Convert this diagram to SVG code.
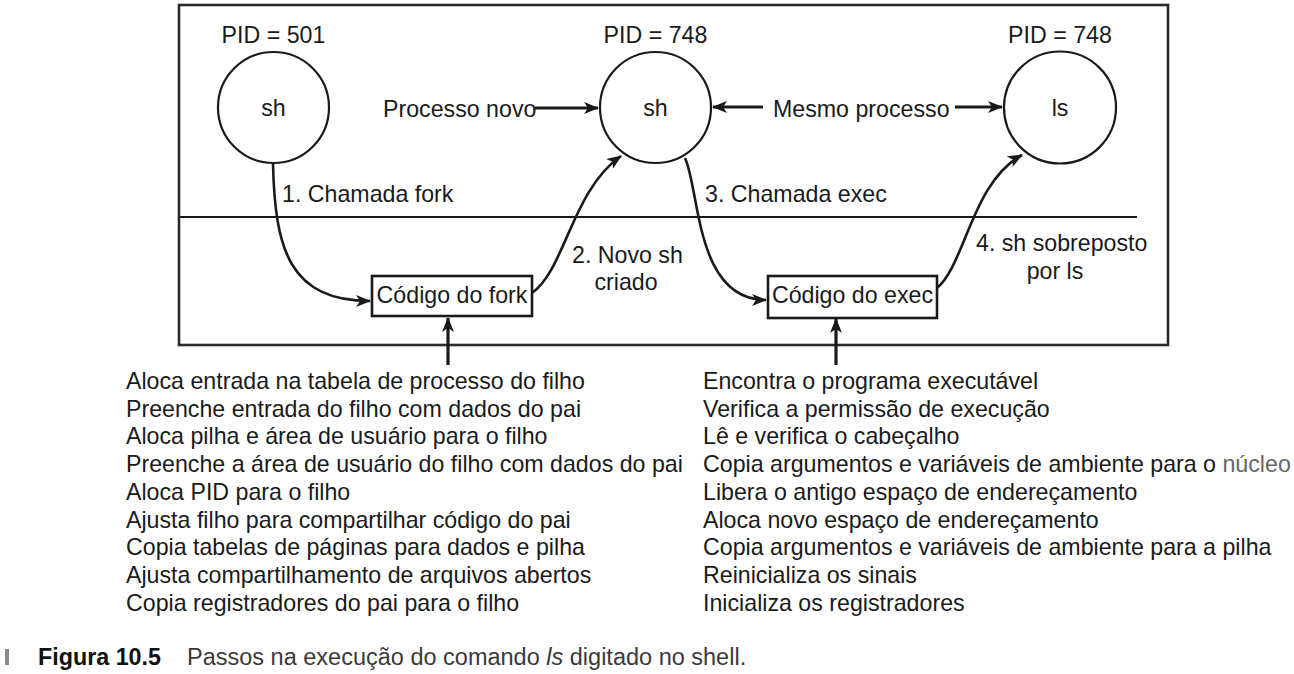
<svg xmlns="http://www.w3.org/2000/svg" width="1294" height="674" viewBox="0 0 1294 674">
<style>
text{font-family:"Liberation Sans",Arial,sans-serif;font-size:23.2px;fill:#1a1a1a}
.c{text-anchor:middle}
.node{fill:#fff;stroke:#1a1a1a;stroke-width:2.2}
.box{fill:#fff;stroke:#1a1a1a;stroke-width:2.6}
.conn{fill:none;stroke:#1a1a1a;stroke-width:2.6}
.thick{fill:none;stroke:#1a1a1a;stroke-width:3.2}
.frame{fill:none;stroke:#2a2a2a;stroke-width:2.6}
.cap{font-size:23.5px;fill:#3a3a3a}
</style>
<defs>
<marker id="ah" markerUnits="userSpaceOnUse" markerWidth="16" markerHeight="12" refX="14" refY="6" orient="auto" viewBox="0 0 16 12">
<path d="M0,0 L15,6 L0,12 L4,6 z" fill="#1a1a1a"/>
</marker>
</defs>
<g id="frame">
<rect class="frame" x="179" y="5" width="989" height="340"/>
<line x1="179" y1="217" x2="1137" y2="217" stroke="#1a1a1a" stroke-width="2.2"/>
</g>
<g id="connectors">
<path class="conn" d="M273,164 C275,250 290,301 370,301" marker-end="url(#ah)"/>
<path class="conn" d="M532,293 C565,270 572,190 621,156" marker-end="url(#ah)"/>
<path class="conn" d="M685,158 C700,190 695,300 766,300" marker-end="url(#ah)"/>
<path class="conn" d="M937,288 C965,265 972,182 1022,155" marker-end="url(#ah)"/>
<line class="thick" x1="535" y1="108" x2="598" y2="108" marker-end="url(#ah)"/>
<line class="thick" x1="763" y1="107" x2="713" y2="107" marker-end="url(#ah)"/>
<line class="thick" x1="955" y1="107" x2="1002" y2="107" marker-end="url(#ah)"/>
<line class="thick" x1="448" y1="365" x2="448" y2="318" marker-end="url(#ah)"/>
<line class="thick" x1="836" y1="365" x2="836" y2="319" marker-end="url(#ah)"/>
</g>
<g id="labels">
<text x="383" y="117">Processo novo</text>
<text x="773" y="117">Mesmo processo</text>
<text x="282" y="202">1. Chamada fork</text>
<text x="705" y="202">3. Chamada exec</text>
<text x="572" y="263">2. Novo sh</text>
<text class="c" x="626" y="290">criado</text>
<text x="976" y="251">4. sh sobreposto</text>
<text class="c" x="1055" y="279">por ls</text>
</g>
<g id="node-sh501">
<text class="c" x="273.5" y="43">PID = 501</text>
<circle class="node" cx="273.5" cy="107.5" r="55.5"/>
<text class="c" x="273.5" y="116">sh</text>
</g>
<g id="node-sh748">
<text class="c" x="655.5" y="43">PID = 748</text>
<circle class="node" cx="655.5" cy="107.5" r="55.5"/>
<text class="c" x="655.5" y="116">sh</text>
</g>
<g id="node-ls748">
<text class="c" x="1060" y="43">PID = 748</text>
<circle class="node" cx="1060" cy="107.5" r="56"/>
<text class="c" x="1060" y="116">ls</text>
</g>
<g id="node-fork">
<rect class="box" x="372" y="276" width="160" height="40"/>
<text class="c" x="452" y="303">Código do fork</text>
</g>
<g id="node-exec">
<rect class="box" x="768" y="276" width="169" height="42"/>
<text class="c" x="852.5" y="303">Código do exec</text>
</g>
<g id="list-fork">
<text x="126" y="389">Aloca entrada na tabela de processo do filho</text>
<text x="126" y="416.7">Preenche entrada do filho com dados do pai</text>
<text x="126" y="444.4">Aloca pilha e área de usuário para o filho</text>
<text x="126" y="472.1">Preenche a área de usuário do filho com dados do pai</text>
<text x="126" y="499.8">Aloca PID para o filho</text>
<text x="126" y="527.5">Ajusta filho para compartilhar código do pai</text>
<text x="126" y="555.2">Copia tabelas de páginas para dados e pilha</text>
<text x="126" y="582.9">Ajusta compartilhamento de arquivos abertos</text>
<text x="126" y="610.6">Copia registradores do pai para o filho</text>
</g>
<g id="list-exec">
<text x="703" y="389">Encontra o programa executável</text>
<text x="703" y="416.7">Verifica a permissão de execução</text>
<text x="703" y="444.4">Lê e verifica o cabeçalho</text>
<text x="703" y="472.1">Copia argumentos e variáveis de ambiente para o <tspan fill="#666">núcleo</tspan></text>
<text x="703" y="499.8">Libera o antigo espaço de endereçamento</text>
<text x="703" y="527.5">Aloca novo espaço de endereçamento</text>
<text x="703" y="555.2">Copia argumentos e variáveis de ambiente para a pilha</text>
<text x="703" y="582.9">Reinicializa os sinais</text>
<text x="703" y="610.6">Inicializa os registradores</text>
</g>
<g id="caption">
<rect x="5" y="649" width="4" height="16" fill="#8a8a8a"/>
<text x="38" y="665" style="font-weight:bold;font-size:23.3px;fill:#111">Figura 10.5</text>
<text class="cap" x="187" y="665">Passos na execução do comando <tspan font-style="italic">ls</tspan> digitado no shell.</text>
</g>
</svg>
